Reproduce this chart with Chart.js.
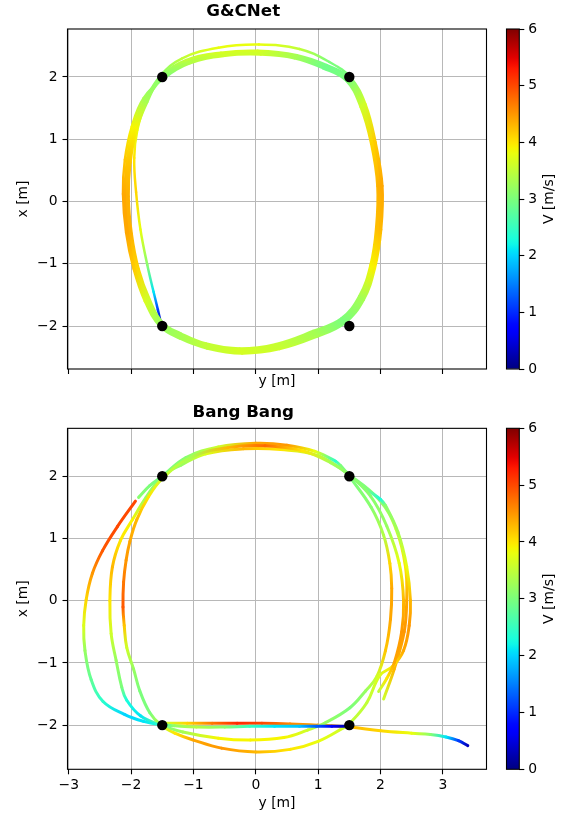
<!DOCTYPE html>
<html>
<head>
<meta charset="utf-8">
<script src="https://cdn.jsdelivr.net/npm/chart.js@4.4.0/dist/chart.umd.min.js"></script>
<style>
  html, body { margin: 0; padding: 0; background: #fff; }
  #fig { position: relative; width: 566px; height: 816px; }
  #fig canvas { position: absolute; }
</style>
</head>
<body>
<div id="fig">
  <canvas id="gcPlot" style="left:0px;top:0px" width="500" height="400"></canvas>
  <canvas id="gcBar" style="left:500px;top:0px" width="66" height="400"></canvas>
  <canvas id="bbPlot" style="left:0px;top:400px" width="500" height="416"></canvas>
  <canvas id="bbBar" style="left:500px;top:400px" width="66" height="416"></canvas>
</div>
<script>
// horizontal axis is y [m], vertical axis is x [m]; each point is [y, x, V]

// gates
const gateY = [-1.5, 1.5, -1.5, 1.5];
const gateX = [2, 2, -2, -2];

// axis ranges and ticks
const yRange = [-3.02, 3.70];
const xRangeGc = [-2.69, 2.77];
const xRangeBb = [-2.71, 2.77];
const vRange = [0, 6];
const yTicks = [-3, -2, -1, 0, 1, 2, 3];
const xTicks = [-2, -1, 0, 1, 2];

// ---- G&CNet flights ----
const gcStart = [
  [-1.52,-1.96,0.3],[-1.57,-1.74,1.1],[-1.64,-1.45,2.1],[-1.74,-1.02,3.1],[-1.85,-0.45,3.8],
  [-1.92,0.15,4.1],[-1.95,0.70,4.0],[-1.90,1.15,3.8],[-1.75,1.62,3.4]
];
const gcLap1 = [
  [-1.50,2.00,3.1],[-1.10,2.25,3.4],[-0.55,2.37,3.6],[0.05,2.40,3.6],[0.65,2.33,3.3],[1.12,2.17,2.9],
  [1.48,1.98,3.0],[1.72,1.55,3.6],[1.88,0.95,4.1],[1.99,0.25,4.35],[1.97,-0.45,4.25],[1.88,-1.05,3.9],
  [1.70,-1.55,3.3],[1.40,-1.92,3.0],[0.95,-2.12,3.3],[0.35,-2.33,3.55],[-0.25,-2.40,3.65],[-0.80,-2.32,3.5],
  [-1.22,-2.16,3.3],[-1.52,-1.98,3.2],[-1.74,-1.60,3.6],[-1.92,-1.08,4.1],[-2.03,-0.50,4.35],[-2.08,0.10,4.35],
  [-2.05,0.65,4.2],[-1.95,1.18,3.9],[-1.77,1.63,3.3]
];
const gcLap2 = [
  [-1.53,2.02,3.1],[-1.18,2.30,3.5],[-0.60,2.47,3.8],[0.05,2.52,3.8],[0.70,2.45,3.5],[1.18,2.24,3.0],
  [1.52,1.99,3.0],[1.76,1.56,3.7],[1.92,0.95,4.2],[2.03,0.25,4.4],[2.01,-0.45,4.3],[1.91,-1.07,3.9],
  [1.73,-1.58,3.3],[1.43,-1.95,3.0],[0.98,-2.17,3.35],[0.38,-2.37,3.6],[-0.22,-2.44,3.65],[-0.78,-2.36,3.5],
  [-1.22,-2.20,3.3],[-1.54,-2.00,3.2],[-1.78,-1.60,3.7],[-1.96,-1.08,4.2],[-2.08,-0.50,4.4],[-2.13,0.12,4.4],
  [-2.10,0.67,4.2],[-1.99,1.20,3.9],[-1.80,1.66,3.3]
];
const gcLap3 = [
  [-1.47,1.98,3.0],[-1.06,2.22,3.4],[-0.50,2.34,3.6],[0.08,2.36,3.6],[0.62,2.30,3.3],[1.08,2.14,2.9],
  [1.45,1.94,3.0],[1.68,1.52,3.6],[1.85,0.93,4.1],[1.95,0.25,4.3],[1.93,-0.43,4.25],[1.84,-1.02,3.9],
  [1.66,-1.52,3.3],[1.37,-1.88,3.0],[0.92,-2.08,3.3],[0.32,-2.29,3.55],[-0.26,-2.36,3.6],[-0.80,-2.28,3.5],
  [-1.20,-2.12,3.3],[-1.49,-1.95,3.2],[-1.70,-1.58,3.6],[-1.88,-1.08,4.1],[-1.99,-0.52,4.3],[-2.04,0.08,4.35],
  [-2.01,0.63,4.2],[-1.91,1.16,3.9],[-1.74,1.60,3.3]
];
const gcLap4 = [
  [-1.51,2.01,3.1],[-1.12,2.27,3.5],[-0.56,2.39,3.65],[0.03,2.42,3.65],[0.66,2.35,3.3],[1.14,2.19,2.9],
  [1.50,1.99,3.0],[1.74,1.57,3.6],[1.90,0.97,4.15],[2.01,0.27,4.4],[1.99,-0.43,4.3],[1.90,-1.04,3.95],
  [1.72,-1.56,3.3],[1.42,-1.93,3.0],[0.97,-2.14,3.3],[0.37,-2.35,3.55],[-0.23,-2.42,3.65],[-0.79,-2.34,3.5],
  [-1.21,-2.18,3.3],[-1.53,-1.99,3.2],[-1.76,-1.61,3.65],[-1.94,-1.09,4.15],[-2.05,-0.51,4.4],[-2.10,0.09,4.4],
  [-2.07,0.64,4.2],[-1.97,1.17,3.9],[-1.78,1.64,3.3]
];
const gcLap5 = [
  [-1.49,1.99,3.1],[-1.08,2.23,3.4],[-0.52,2.35,3.6],[0.06,2.38,3.6],[0.63,2.31,3.3],[1.10,2.15,2.9],
  [1.46,1.96,3.0],[1.70,1.54,3.6],[1.86,0.94,4.1],[1.97,0.24,4.35],[1.95,-0.46,4.25],[1.86,-1.06,3.9],
  [1.68,-1.54,3.3],[1.38,-1.90,3.0],[0.93,-2.10,3.3],[0.33,-2.31,3.55],[-0.27,-2.38,3.65],[-0.81,-2.30,3.5],
  [-1.21,-2.14,3.3],[-1.50,-1.97,3.2],[-1.72,-1.59,3.6],[-1.90,-1.07,4.1],[-2.01,-0.49,4.35],[-2.06,0.11,4.35],
  [-2.03,0.66,4.2],[-1.93,1.19,3.9],[-1.76,1.62,3.3],[-1.50,2.00,3.1]
];

// ---- Bang Bang flights ----
const bbStart = [
  [1.47,-2.02,0.2],[1.22,-2.02,0.7],[0.97,-2.02,1.3],[0.70,-2.02,1.9],[0.30,-2.02,2.1],[-0.10,-2.02,2.5],
  [-0.50,-2.03,3.1],[-0.95,-2.03,3.4],[-1.30,-2.01,3.2],[-1.55,-1.99,2.4],[-1.80,-1.94,2.1],[-2.10,-1.83,2.0],
  [-2.45,-1.62,2.4],[-2.64,-1.27,2.8],[-2.74,-0.80,3.2],[-2.76,-0.40,3.7],[-2.72,0.02,4.1],[-2.62,0.44,4.5],
  [-2.46,0.80,4.9],[-2.22,1.19,5.0],[-1.93,1.60,5.0]
];
const bbLap1 = [
  [-1.88,1.66,3.1],[-1.70,1.85,3.0],[-1.50,2.00,3.0],[-1.12,2.30,3.1],[-0.60,2.47,3.6],[0.00,2.53,4.4],
  [0.50,2.50,4.5],[0.95,2.40,3.8],[1.28,2.24,2.4],[1.36,2.17,3.0],[1.50,2.02,3.0],[1.78,1.79,3.0],
  [2.00,1.63,2.3],[2.08,1.53,3.1],[2.28,1.10,3.3],[2.42,0.55,3.8],[2.48,0.00,4.3],[2.46,-0.40,4.5],
  [2.37,-0.80,4.4],[2.20,-1.05,4.0],[1.99,-1.20,3.7],[1.78,-1.64,3.5],[1.50,-1.98,3.5],[1.41,-2.04,3.6],
  [1.00,-2.26,3.8],[0.55,-2.39,4.0],[0.00,-2.43,4.3],[-0.55,-2.37,4.5],[-1.00,-2.24,4.4],[-1.30,-2.13,4.0],
  [-1.52,-2.00,3.4],[-1.70,-1.80,3.0],[-1.86,-1.45,3.0],[-1.96,-1.10,3.2],[-2.07,-0.75,3.6],[-2.11,-0.40,4.2],
  [-2.13,-0.10,4.9],[-2.12,0.30,4.7],[-2.08,0.65,4.5],[-2.02,0.95,4.4],[-1.91,1.30,4.3],[-1.72,1.67,4.0],
  [-1.50,1.96,3.6],[-1.05,2.30,3.3],[-0.45,2.46,4.3],[0.15,2.49,4.8],[0.75,2.41,4.0],[1.20,2.22,3.3],
  [1.50,2.02,3.1],[1.84,1.68,3.1],[2.10,1.20,3.2],[2.30,0.60,3.8],[2.37,0.00,4.3],[2.34,-0.50,4.5],
  [2.22,-1.00,4.4],[2.10,-1.25,4.0],[1.97,-1.46,3.5]
];
const bbLap2 = [
  [2.05,-1.58,3.6],[2.22,-1.10,4.3],[2.38,-0.50,4.5],[2.42,0.00,4.4],[2.40,0.55,4.0],[2.25,1.15,3.6],
  [1.98,1.62,3.1],[1.50,2.02,3.0],[1.00,2.33,3.5],[0.40,2.43,4.0],[-0.20,2.44,4.3],[-0.80,2.36,3.7],
  [-1.20,2.18,3.2],[-1.50,2.00,3.1],[-1.76,1.66,3.2],[-1.98,1.30,3.9],[-2.17,0.97,4.0],[-2.30,0.54,4.3],
  [-2.34,0.00,4.0],[-2.32,-0.53,3.6],[-2.24,-0.96,3.2],[-2.15,-1.39,3.0],[-2.07,-1.60,2.3],[-1.85,-1.85,2.1],
  [-1.52,-2.00,2.9],[-1.17,-2.11,3.3],[-0.60,-2.21,3.9],[-0.09,-2.24,3.9],[0.45,-2.20,3.9],[0.83,-2.08,3.6],
  [1.10,-1.97,3.2],[1.51,-1.72,3.0],[1.76,-1.45,3.2],[1.94,-1.22,3.6],[2.08,-0.80,4.2],[2.16,-0.30,4.4],
  [2.18,0.20,4.4],[2.15,0.60,4.1],[2.05,1.05,3.4],[1.85,1.50,3.1],[1.50,2.00,3.0]
];
const bbEnd = [
  [-1.45,-1.97,3.6],[-1.10,-1.97,4.1],[-0.70,-1.97,4.7],[-0.30,-1.97,5.2],[0.10,-1.97,5.0],[0.55,-1.98,4.6],
  [1.00,-2.00,4.4],[1.50,-2.03,4.3],[2.00,-2.09,4.1],[2.50,-2.13,3.8],[2.80,-2.15,3.1],[3.05,-2.19,2.1],
  [3.25,-2.25,1.1],[3.40,-2.33,0.3]
];

// jet colormap, V mapped over vRange
function jet(v) {
  const t = Math.min(1, Math.max(0, (v - vRange[0]) / (vRange[1] - vRange[0])));
  const lerp = pts => {
    for (let i = 1; i < pts.length; i++) {
      if (t <= pts[i][0]) {
        const [a0, b0] = pts[i - 1], [a1, b1] = pts[i];
        return b0 + (b1 - b0) * (t - a0) / (a1 - a0);
      }
    }
    return pts[pts.length - 1][1];
  };
  const r = lerp([[0, 0], [0.35, 0], [0.66, 1], [0.89, 1], [1, 0.5]]);
  const g = lerp([[0, 0], [0.125, 0], [0.375, 1], [0.64, 1], [0.91, 0], [1, 0]]);
  const b = lerp([[0, 0.5], [0.11, 1], [0.34, 1], [0.65, 0], [1, 0]]);
  return `rgb(${Math.round(r * 255)},${Math.round(g * 255)},${Math.round(b * 255)})`;
}

// each segment gets a gradient between the speeds at its two ends
function segColor(c) {
  const data = c.chart.data.datasets[c.datasetIndex].data;
  const v0 = data[c.p0DataIndex].v, v1 = data[c.p1DataIndex].v;
  const g = c.chart.ctx.createLinearGradient(c.p0.x, c.p0.y, c.p1.x, c.p1.y);
  g.addColorStop(0, jet(v0));
  g.addColorStop(1, jet(v1));
  return g;
}

const fmt = v => (v < 0 ? '\u2212' + Math.abs(v) : String(v));
const fixedTicks = list => s => { s.ticks = list.map(value => ({ value })); };

// black box round the plot area
const frame = {
  id: 'frame',
  afterDraw(chart) {
    const { ctx, chartArea: a } = chart;
    ctx.save();
    ctx.strokeStyle = '#000';
    ctx.lineWidth = 1.1;
    ctx.strokeRect(a.left, a.top, a.right - a.left, a.bottom - a.top);
    ctx.restore();
  }
};

// colorbar label, reading bottom to top
const cbLabel = {
  id: 'cbLabel',
  afterDraw(chart) {
    const { ctx, chartArea: a } = chart;
    ctx.save();
    ctx.translate(chart.scales.y.right - 16.5, (a.top + a.bottom) / 2);
    ctx.rotate(-Math.PI / 2);
    ctx.font = '13.9px "DejaVu Sans"';
    ctx.fillStyle = '#000';
    ctx.textAlign = 'center';
    ctx.textBaseline = 'middle';
    ctx.fillText('V [m/s]', 0, 0);
    ctx.restore();
  }
};

Chart.defaults.font.family = '"DejaVu Sans"';
Chart.defaults.font.size = 13.9;
Chart.defaults.color = '#000';

const gridOpts = { color: '#b8b8b8', lineWidth: 1, tickLength: 5, tickColor: '#000', tickWidth: 1.1 };

function makePanel(id, o) {
  const datasets = o.tracks.map(t => ({
    data: t.map(([y, x, v]) => ({ x: y, y: x, v })),
    borderWidth: o.lineWidth,
    pointRadius: 0,
    tension: 0.4,
    fill: false,
    borderCapStyle: 'round',
    borderJoinStyle: 'round',
    segment: { borderColor: segColor },
    order: 1
  }));
  datasets.push({
    data: gateY.map((y, i) => ({ x: y, y: gateX[i] })),
    showLine: false,
    pointRadius: 5.2,
    pointBackgroundColor: '#000',
    pointBorderWidth: 0,
    order: 0
  });

  new Chart(document.getElementById(id), {
    type: 'line',
    data: { datasets },
    options: {
      responsive: false,
      animation: false,
      events: [],
      layout: { padding: { left: 0, right: 13.5, top: 0, bottom: 0 } },
      plugins: {
        legend: { display: false },
        tooltip: { enabled: false },
        title: {
          display: true, text: o.title, color: '#000',
          font: { size: 16.7, weight: 'bold' },
          padding: { top: o.titleTop, bottom: o.titleBottom }
        }
      },
      scales: {
        x: {
          type: 'linear', bounds: 'data', min: yRange[0], max: yRange[1],
          afterBuildTicks: fixedTicks(yTicks),
          ticks: { display: o.xLabels, padding: 2.5, callback: fmt },
          grid: gridOpts,
          border: { display: false },
          title: { display: true, text: 'y [m]', padding: { top: 0, bottom: o.xTitlePad } },
          afterFit: s => { s.height = o.xAxisH; }
        },
        y: {
          type: 'linear', bounds: 'data', min: o.xRange[0], max: o.xRange[1],
          afterBuildTicks: fixedTicks(xTicks),
          ticks: { padding: 5, callback: fmt },
          grid: gridOpts,
          border: { display: false },
          title: { display: true, text: 'x [m]', padding: { top: 15, bottom: 0 } },
          afterFit: s => { s.width = 67.5; }
        }
      }
    },
    plugins: [frame]
  });
}

function makeColorbar(id, padTop, padBottom) {
  new Chart(document.getElementById(id), {
    type: 'bar',
    data: {
      labels: ['V'],
      datasets: [{
        data: [[vRange[0], vRange[1]]],
        borderWidth: 0,
        barPercentage: 1,
        categoryPercentage: 1,
        backgroundColor: c => {
          const a = c.chart.chartArea;
          if (!a) return 'rgba(0,0,0,0)';
          const g = c.chart.ctx.createLinearGradient(0, a.bottom, 0, a.top);
          for (let i = 0; i <= 60; i++) g.addColorStop(i / 60, jet(vRange[0] + (vRange[1] - vRange[0]) * i / 60));
          return g;
        }
      }]
    },
    options: {
      responsive: false,
      animation: false,
      events: [],
      layout: { padding: { left: 6.5, right: 0, top: padTop, bottom: padBottom } },
      plugins: { legend: { display: false }, tooltip: { enabled: false } },
      scales: {
        x: { display: false },
        y: {
          position: 'right', min: vRange[0], max: vRange[1],
          ticks: { stepSize: 1, padding: 4 },
          grid: { drawOnChartArea: false, tickLength: 5, tickColor: '#000', tickWidth: 1.1 },
          border: { display: false },
          afterFit: s => { s.width = 46.7; }
        }
      }
    },
    plugins: [frame, cbLabel]
  });
}

makePanel('gcPlot', {
  title: 'G&CNet',
  tracks: [[...gcStart, ...gcLap1, ...gcLap2, ...gcLap3, ...gcLap4, ...gcLap5]],
  xRange: xRangeGc,
  lineWidth: 2.5,
  titleTop: 2, titleBottom: 6.96,
  xLabels: false, xAxisH: 31, xTitlePad: 10
});
makeColorbar('gcBar', 29, 31);

makePanel('bbPlot', {
  title: 'Bang Bang',
  tracks: [bbStart, bbLap1, bbLap2, bbEnd],
  xRange: xRangeBb,
  lineWidth: 3,
  titleTop: 2.3, titleBottom: 6,
  xLabels: true, xAxisH: 46.7, xTitlePad: 4.7
});
makeColorbar('bbBar', 28.3, 46.7);
</script>
</body>
</html>
